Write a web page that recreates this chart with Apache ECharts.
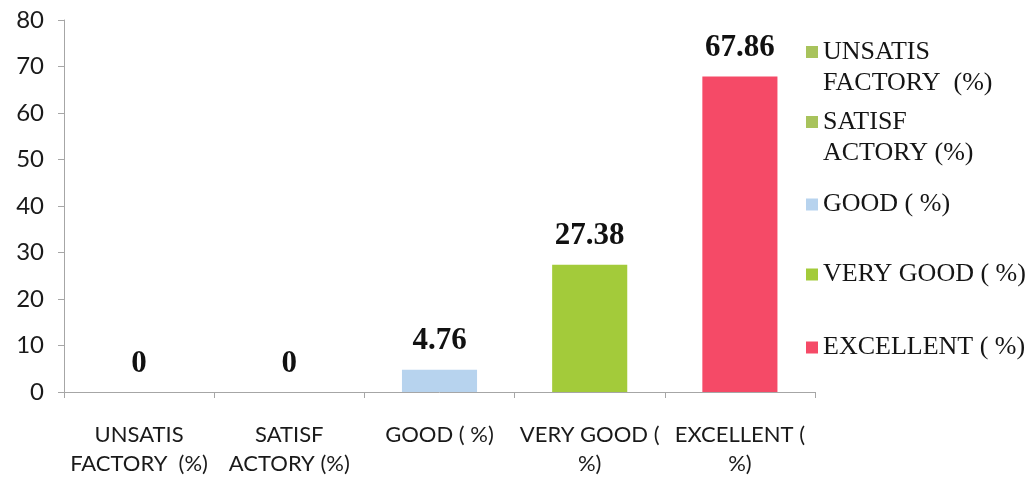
<!DOCTYPE html>
<html>
<head>
<meta charset="utf-8">
<script src="https://cdn.jsdelivr.net/npm/echarts@6/dist/echarts.min.js"></script>
<style>
html,body{margin:0;padding:0;background:#fff;}
#chart{width:1035px;height:478px;}
</style>
</head>
<body>
<div id="chart"></div>
<script>
var categories = ['UNSATIS\nFACTORY  (%)', 'SATISF\nACTORY (%)', 'GOOD ( %)', 'VERY GOOD (\n%)', 'EXCELLENT (\n%)'];
var seriesNames = ['UNSATIS\nFACTORY  (%)', 'SATISF\nACTORY (%)', 'GOOD ( %)', 'VERY GOOD ( %)', 'EXCELLENT ( %)'];
var values = [0, 0, 4.76, 27.38, 67.86];
var colors = ['#a8c35c', '#a8c35c', '#b7d3ee', '#a3cb3a', '#f54a67'];
var yTicks = [0, 10, 20, 30, 40, 50, 60, 70, 80];
var legendTops = [37, 107, 189, 259, 332];

var series = seriesNames.map(function (name, i) {
  var data = categories.map(function (c, j) { return j === i ? values[i] : '-'; });
  return {
    name: name,
    type: 'bar',
    stack: 'all',
    barWidth: '50%',
    data: data,
    itemStyle: { color: colors[i] },
    label: {
      show: true,
      position: 'top',
      distance: 13,
      fontFamily: 'Liberation Serif',
      fontWeight: 'bold',
      fontSize: 31,
      color: '#111'
    }
  };
});

var twoLineIcon = 'path://M0,0L0.01,0M0,9L12,9L12,21L0,21ZM0,62L0.01,62';
var legends = seriesNames.map(function (name, i) {
  var twoLine = name.indexOf('\n') >= 0;
  return {
    left: 806,
    top: legendTops[i],
    padding: 0,
    orient: 'vertical',
    itemWidth: 12,
    itemHeight: twoLine ? 62 : 12,
    icon: twoLine ? twoLineIcon : 'rect',
    selectedMode: false,
    data: [name],
    textStyle: {
      fontFamily: 'Liberation Serif',
      fontSize: 26,
      lineHeight: 31,
      color: '#151515'
    }
  };
});

var chart = echarts.init(document.getElementById('chart'));
chart.setOption({
  backgroundColor: '#ffffff',
  animation: false,
  grid: { left: 64, right: 220, top: 20, bottom: 85, containLabel: false },
  legend: legends,
  xAxis: {
    type: 'category',
    data: categories,
    axisLine: { lineStyle: { color: '#a6a6a6', width: 1 } },
    axisTick: { show: true, length: 6, lineStyle: { color: '#a6a6a6' } },
    axisLabel: {
      interval: 0,
      margin: 28,
      fontFamily: 'Lato',
      fontSize: 22,
      lineHeight: 29,
      color: '#1a1a1a'
    }
  },
  yAxis: {
    type: 'value',
    min: yTicks[0],
    max: yTicks[yTicks.length - 1],
    interval: 10,
    axisLine: { show: true, lineStyle: { color: '#a6a6a6', width: 1 } },
    axisTick: { show: true, length: 6, lineStyle: { color: '#a6a6a6' } },
    splitLine: { show: false },
    axisLabel: {
      margin: 20,
      fontFamily: 'Lato',
      fontSize: 24,
      color: '#1a1a1a'
    }
  },
  series: series
});
</script>
</body>
</html>
